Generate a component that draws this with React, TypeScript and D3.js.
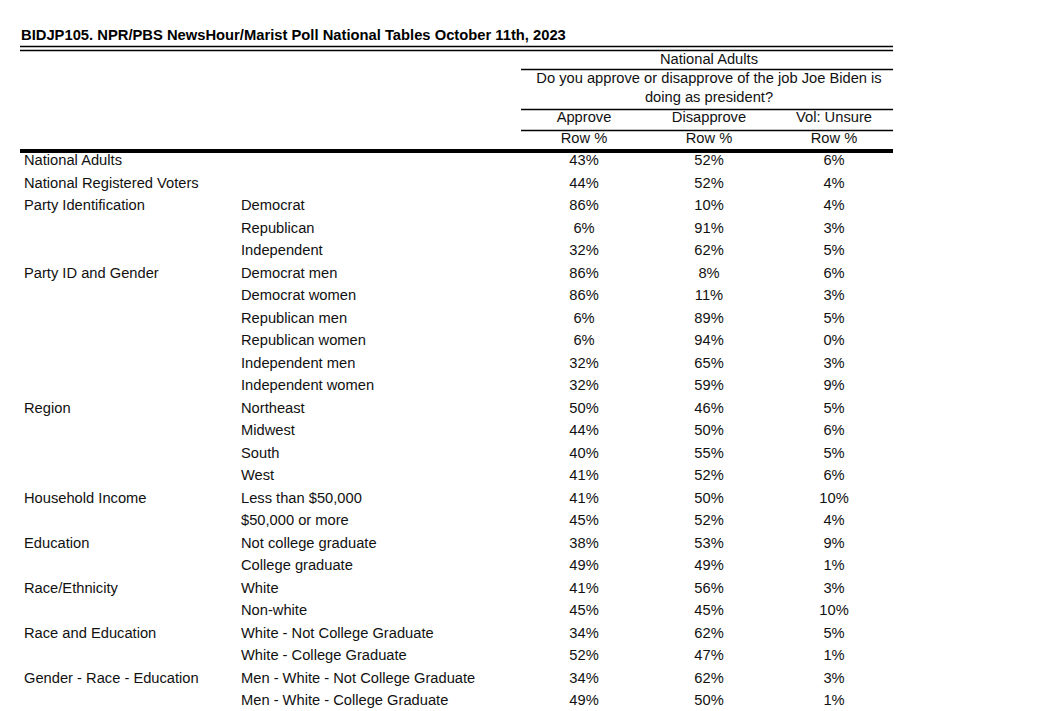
import React from "react";
import * as d3 from "d3";

const title = "BIDJP105. NPR/PBS NewsHour/Marist Poll National Tables October 11th, 2023";
const groups = ["National Adults", "National Registered Voters", "Party Identification", "", "", "Party ID and Gender", "", "", "", "", "", "Region", "", "", "", "Household Income", "", "Education", "", "Race/Ethnicity", "", "Race and Education", "", "Gender - Race - Education", ""];
const subgroups = ["", "", "Democrat", "Republican", "Independent", "Democrat men", "Democrat women", "Republican men", "Republican women", "Independent men", "Independent women", "Northeast", "Midwest", "South", "West", "Less than $50,000", "$50,000 or more", "Not college graduate", "College graduate", "White", "Non-white", "White - Not College Graduate", "White - College Graduate", "Men - White - Not College Graduate", "Men - White - College Graduate"];
const approve = [43, 44, 86, 6, 32, 86, 86, 6, 6, 32, 32, 50, 44, 40, 41, 41, 45, 38, 49, 41, 45, 34, 52, 34, 49];
const disapprove = [52, 52, 10, 91, 62, 8, 11, 89, 94, 65, 59, 46, 50, 55, 52, 50, 52, 53, 49, 56, 45, 62, 47, 62, 50];
const unsure = [6, 4, 4, 3, 5, 6, 3, 5, 0, 3, 9, 5, 6, 5, 6, 10, 4, 9, 1, 3, 10, 5, 1, 3, 1];
const columns = ["Approve", "Disapprove", "Vol: Unsure"];

export default function App() {
  const W = 1051, H = 711;
  const font = "'Liberation Sans', Arial, sans-serif";
  const fs = 14.7;
  const y = d3.scaleLinear().domain([0, groups.length - 1]).range([160, 700]);
  const x = d3.scalePoint().domain(columns).range([584, 834]);
  const series = [approve, disapprove, unsure];
  return (
    <svg width={W} height={H} style={{ position: "absolute", left: 0, top: 0, background: "#fff" }} fontFamily={font}>
      <rect width={W} height={H} fill="#fff" />
      <text x={21} y={40} fontSize={14.75} fontWeight="bold" fill="#000">{title}</text>
      <line x1={20} x2={893} y1={46.5} y2={46.5} stroke="#000" strokeWidth={1.6} />
      <line x1={20} x2={893} y1={50.5} y2={50.5} stroke="#000" strokeWidth={1.6} />
      <text x={709} y={64} fontSize={fs} textAnchor="middle" fill="#111">National Adults</text>
      <line x1={521} x2={893} y1={69.5} y2={69.5} stroke="#000" strokeWidth={1.4} />
      <text x={709} y={83} fontSize={fs} textAnchor="middle" fill="#111">Do you approve or disapprove of the job Joe Biden is</text>
      <text x={709} y={102} fontSize={fs} textAnchor="middle" fill="#111">doing as president?</text>
      <line x1={521} x2={893} y1={109.5} y2={109.5} stroke="#000" strokeWidth={1.4} />
      {columns.map((c) => (
        <g key={c}>
          <text x={x(c)} y={122} fontSize={fs} textAnchor="middle" fill="#111">{c}</text>
          <text x={x(c)} y={143} fontSize={fs} textAnchor="middle" fill="#111">Row %</text>
        </g>
      ))}
      <line x1={521} x2={893} y1={130.5} y2={130.5} stroke="#000" strokeWidth={1.4} />
      <line x1={20} x2={893} y1={151} y2={151} stroke="#000" strokeWidth={4} />
      {groups.map((g, i) => (
        <g key={i} fontSize={fs} fill="#111">
          <text x={24} y={y(i) + 5}>{g}</text>
          <text x={241} y={y(i) + 5}>{subgroups[i]}</text>
          {series.map((s, j) => (
            <text key={j} x={x(columns[j])} y={y(i) + 5} textAnchor="middle">{s[i]}%</text>
          ))}
        </g>
      ))}
    </svg>
  );
}
